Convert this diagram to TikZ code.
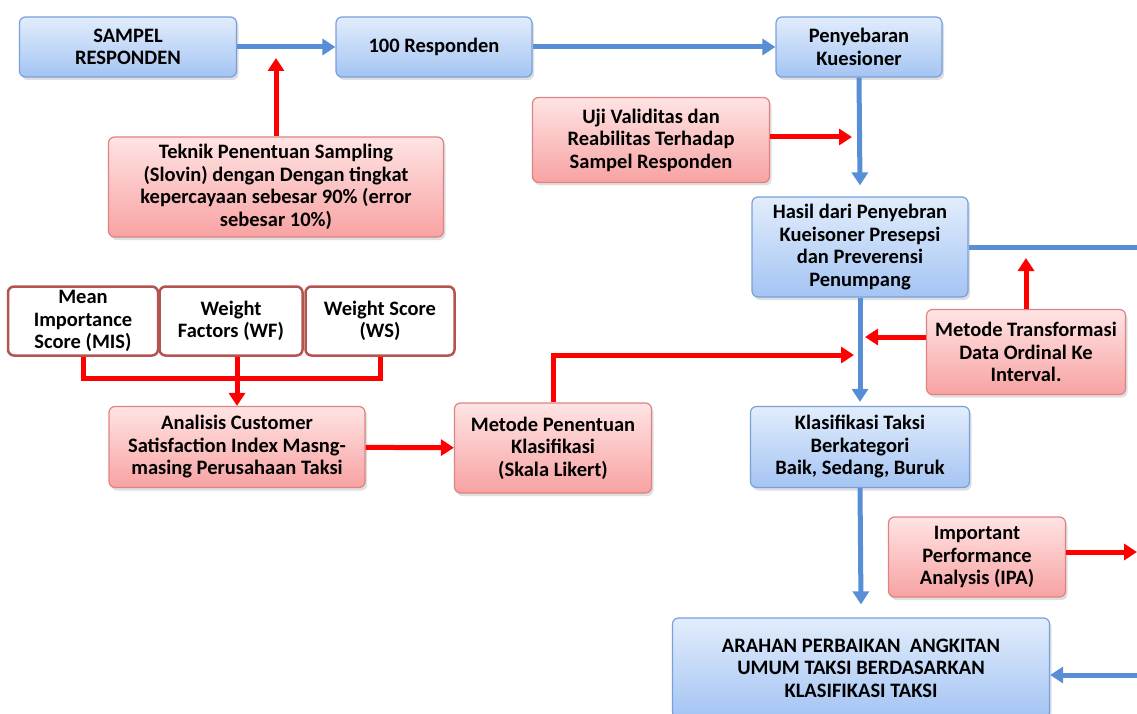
\documentclass[tikz,border=0pt]{standalone}
\usepackage{fontspec}
\setmainfont{Carlito}
\usetikzlibrary{arrows.meta,positioning,shadows,calc}
\definecolor{bluetop}{RGB}{226,237,252}
\definecolor{bluebot}{RGB}{164,196,243}
\definecolor{blueedge}{RGB}{120,160,220}
\definecolor{blueline}{RGB}{88,142,214}
\definecolor{redtop}{RGB}{255,228,228}
\definecolor{redbot}{RGB}{248,162,162}
\definecolor{rededge}{RGB}{222,130,130}
\definecolor{darkred}{RGB}{180,84,80}
\tikzstyle{bluebox}  = [rectangle, rounded corners=6pt, draw=blueedge, line width=1.2pt, top color=bluetop, bottom color=bluebot, align=center, font=\bfseries, drop shadow={opacity=0.25, shadow xshift=2pt, shadow yshift=-3pt}]
\tikzstyle{redbox}   = [rectangle, rounded corners=6pt, draw=rededge, line width=1.2pt, top color=redtop, bottom color=redbot, align=center, font=\bfseries, drop shadow={opacity=0.25, shadow xshift=2pt, shadow yshift=-3pt}]
\tikzstyle{whitebox} = [rectangle, rounded corners=6pt, draw=darkred, line width=2.5pt, fill=white, align=center, font=\bfseries]
\tikzstyle{bluearrow} = [line width=5pt, blueline, -{Triangle[length=13pt,width=16pt]}]
\tikzstyle{redarrow}  = [line width=5pt, red, -{Triangle[length=13pt,width=16pt]}]
\tikzstyle{redline}   = [line width=5pt, red]

\begin{document}
\begin{tikzpicture}[x=1pt, y=-1pt, every node/.style={inner sep=1pt}]
      \useasboundingbox (0,0) rectangle (1137,714);
      \fontsize{20.5}{22.5}\selectfont
      % top row
      \node[bluebox, minimum width=217pt, minimum height=60pt] (sampel) at (128,47) {SAMPEL\\RESPONDEN};
      \node[bluebox, minimum width=196pt, minimum height=60pt] (seratus) at (434,47) {100 Responden};
      \node[bluebox, minimum width=166pt, minimum height=60pt] (sebar) at (859,47) {Penyebaran\\Kuesioner};
      \node[redbox, minimum width=335pt, minimum height=100pt] (teknik) at (276,187) {Teknik Penentuan Sampling\\(Slovin) dengan Dengan tingkat\\kepercayaan sebesar 90\% (error\\sebesar 10\%)};
      \node[redbox, minimum width=237pt, minimum height=85pt] (uji) at (651,140) {Uji Validitas dan\\Reabilitas Terhadap\\Sampel Responden};
      % right column
      \node[bluebox, minimum width=216pt, minimum height=100pt] (hasil) at (860,247) {Hasil dari Penyebran\\Kueisoner Presepsi\\dan Preverensi\\Penumpang};
      \node[redbox, minimum width=199pt, minimum height=85pt] (transformasi) at (1026,352) {Metode Transformasi\\Data Ordinal Ke\\Interval.};
      \node[bluebox, minimum width=219pt, minimum height=81pt] (klasifikasi) at (860,447) {Klasifikasi Taksi\\Berkategori\\Baik, Sedang, Buruk};
      \node[redbox, minimum width=177pt, minimum height=80pt] (ipa) at (977,557) {Important\\Performance\\Analysis (IPA)};
      \node[bluebox, minimum width=377pt, minimum height=100pt] (arahan) at (861,668) {ARAHAN PERBAIKAN \ ANGKITAN\\UMUM TAKSI BERDASARKAN\\KLASIFIKASI TAKSI};
      % left middle
      \node[whitebox, minimum width=150pt, minimum height=69pt] (mis) at (83,321) {Mean\\Importance\\Score (MIS)};
      \node[whitebox, minimum width=143pt, minimum height=69pt] (wf) at (231,321) {Weight\\Factors (WF)};
      \node[whitebox, minimum width=149pt, minimum height=69pt] (ws) at (380,321) {Weight Score\\(WS)};
      \node[redbox, minimum width=256pt, minimum height=81pt] (analisis) at (237,447) {Analisis Customer\\Satisfaction Index Masng-\\masing Perusahaan Taksi};
      \node[redbox, minimum width=197pt, minimum height=90pt] (penentuan) at (553,448) {Metode Penentuan\\Klasifikasi\\(Skala Likert)};

      % free ends
      \coordinate (tekniktip) at (276,58);
      \coordinate (ujitip) at (852,137);
      \coordinate (hasilend) at (1137,247);
      \coordinate (transtip) at (1026,258);
      \coordinate (transleft) at (865,337);
      \coordinate (likerttip) at (854,355);
      \coordinate (join) at (237,378);
      \coordinate (ipaend) at (1137,552);
      \coordinate (arahanstart) at (1137,675);

      % blue flow
      \draw[bluearrow] (sampel) -- (seratus);
      \draw[bluearrow] (seratus) -- (sebar);
      \draw[bluearrow] (sebar.south) -- ([yshift=11pt]hasil.north);
      \draw[line width=5pt, blueline] (hasil.east) -- (hasilend);
      \draw[bluearrow] (hasil.south) -- ([yshift=4pt]klasifikasi.north);
      \draw[bluearrow] (klasifikasi.south) -- ([yshift=13pt]arahan.north);
      \draw[bluearrow] (arahanstart) -- (arahan.east |- arahanstart);

      % red inputs
      \draw[redarrow] (teknik.north) -- (tekniktip);
      \draw[redarrow] (uji.east |- ujitip) -- (ujitip);
      \draw[redarrow] (transformasi.north) -- (transtip);
      \draw[redarrow] (transformasi.west |- transleft) -- (transleft);
      \draw[redarrow] (penentuan.north) |- (likerttip);
      \draw[redline] (mis.south) |- (join) -| (ws.south);
      \draw[redarrow] (wf.south -| analisis.north) -- (analisis.north);
      \draw[redarrow] (analisis) -- (penentuan);
      \draw[redarrow] (ipa.east |- ipaend) -- (ipaend);
    \end{tikzpicture}
\end{document}
